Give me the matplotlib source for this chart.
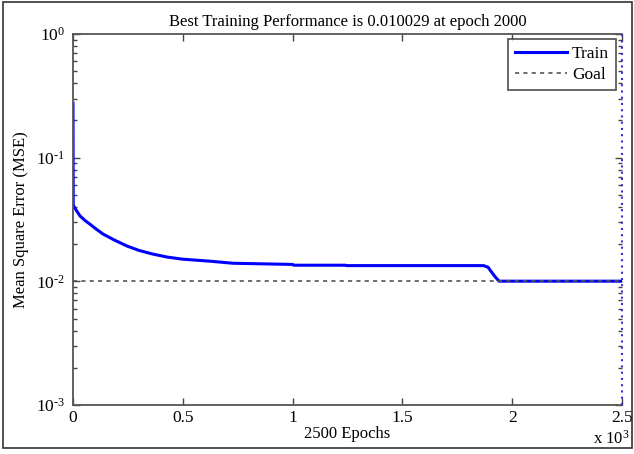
import numpy as np
import matplotlib
matplotlib.use("Agg")
import matplotlib.pyplot as plt
from matplotlib.ticker import FixedLocator, FuncFormatter, LogLocator, NullFormatter
from matplotlib.patches import Rectangle

# Training record
epochs = [0, 1, 2, 15, 32, 55, 77, 105, 137, 190, 246, 300, 364, 430, 500, 624, 729,
          1000, 1005, 1240, 1245, 1870, 1890, 1920, 1940, 2500]
mse = [0.275, 0.0423, 0.041, 0.0375, 0.0338, 0.031, 0.029, 0.0265, 0.0241, 0.0215,
       0.0193, 0.0178, 0.0166, 0.0157, 0.0151, 0.01455, 0.0140, 0.0137, 0.0135, 0.0135,
       0.0134, 0.0134, 0.0130, 0.0110, 0.01003, 0.010029]
goal = 0.01
best_epoch = 2500
x_ticks = [0, 500, 1000, 1500, 2000, 2500]

plt.rcParams['font.family'] = ['Liberation Serif', 'DejaVu Serif']
plt.rcParams['mathtext.fontset'] = 'custom'
plt.rcParams['mathtext.rm'] = 'Liberation Serif'
plt.rcParams['mathtext.it'] = 'Liberation Serif'


def ylog_label(v, p):
    e = int(round(np.log10(v)))
    s = str(e).replace('-', '\u2010')
    return r"$10^{%s}$" % s


W, H = 634, 454
fig = plt.figure(figsize=(W / 100, H / 100), dpi=100)
ax = fig.add_axes([73 / W, 1 - 405 / H, 549 / W, 371 / H])

ax.plot(epochs, mse, color='#0000ff', linewidth=2.2, label='Train')
ax.axhline(goal, color='#555555', linestyle=(0, (2.5, 2.5)), linewidth=1.2, label='Goal')
ax.axvline(best_epoch, color='#3333cc', linestyle=(0, (1, 2)), linewidth=1.5,
           zorder=5, clip_on=False)

ax.set_yscale('log')
ax.set_xlim(0, 2500)
ax.set_ylim(1e-3, 1e0)

ax.xaxis.set_major_locator(FixedLocator(x_ticks))
ax.xaxis.set_major_formatter(FuncFormatter(lambda v, p: f"{v / 1000:g}"))
ax.yaxis.set_major_locator(LogLocator(base=10, numticks=10))
ax.yaxis.set_minor_locator(LogLocator(base=10, subs=np.arange(2, 10), numticks=20))
ax.yaxis.set_minor_formatter(NullFormatter())
ax.yaxis.set_major_formatter(FuncFormatter(ylog_label))

ax.tick_params(which='both', direction='in', top=True, right=True, colors='#444444',
               labelcolor='black', labelsize=12.5)
ax.tick_params(which='major', length=5, width=1)
ax.tick_params(which='minor', length=3, width=1)
ax.tick_params(axis='y', pad=6)
for s in ax.spines.values():
    s.set_color('#555555')
    s.set_linewidth(1.3)
ax.spines['right'].set_visible(False)

ax.set_title('Best Training Performance is 0.010029 at epoch 2000', fontsize=12, pad=6)
ax.set_xlabel('2500 Epochs', fontsize=12, labelpad=0)
ax.set_ylabel('Mean Square Error (MSE)', fontsize=12, labelpad=5)
fig.text(611 / W, 1 - 439 / H, r'x $10^{3}$', fontsize=12, ha='center', va='center')

leg = ax.legend(loc='upper right', bbox_to_anchor=(0.989, 0.987), borderaxespad=0,
                fontsize=12.5, frameon=True, fancybox=False, handlelength=3.0,
                borderpad=0.4, labelspacing=0.3, handletextpad=0.3)
leg.get_frame().set_edgecolor('#333333')
leg.get_frame().set_linewidth(1.3)

fig.patches.append(Rectangle((2.5 / W, 1 - 448 / H), 629 / W, 446 / H,
                             transform=fig.transFigure, fill=False,
                             edgecolor='#333333', linewidth=1.2))

fig.savefig('out.png', dpi=100)
